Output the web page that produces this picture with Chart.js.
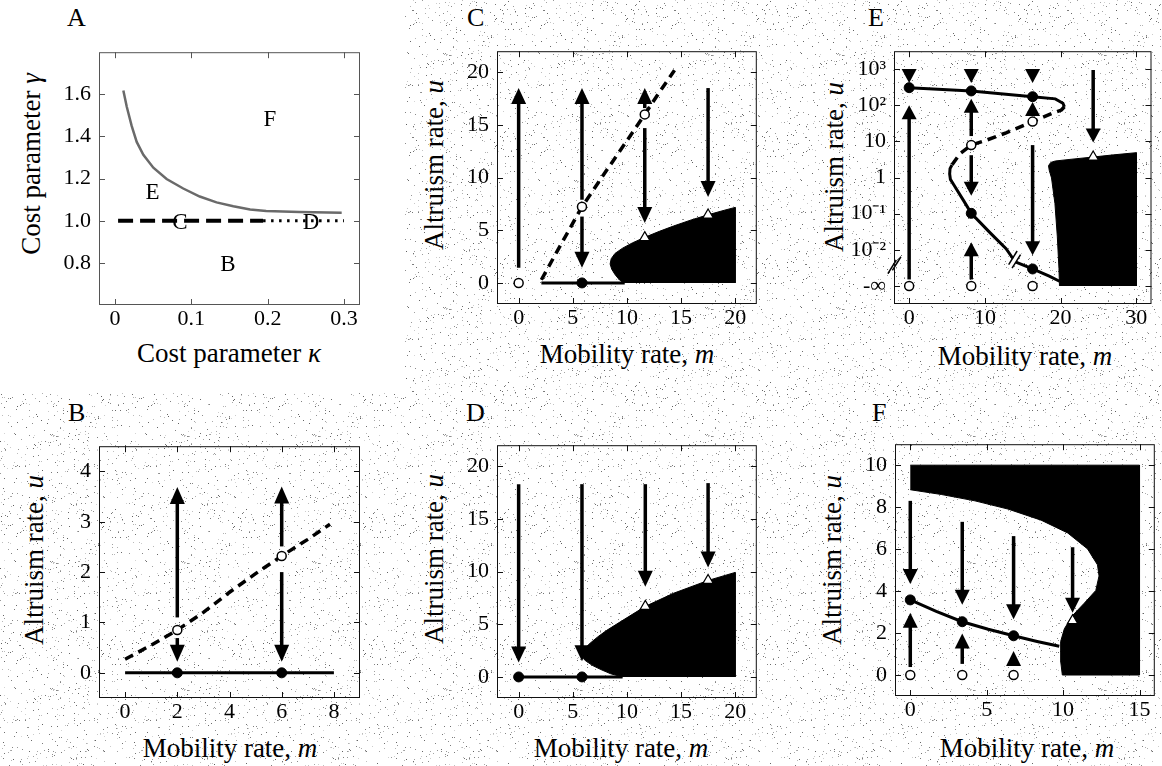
<!DOCTYPE html>
<html>
<head>
<meta charset="utf-8">
<script src="https://cdn.jsdelivr.net/npm/chart.js@4.4.1/dist/chart.umd.min.js"></script>
<style>
  body {
    margin: 0;
    width: 1162px;
    height: 766px;
    position: relative;
    overflow: hidden;
    font-family: "Liberation Serif", "Times New Roman", serif;
    color: #000;
    background-color: #fff;
  }
  #whiteA { position: absolute; left: 0; top: 0; width: 405px; height: 393px; background: #fff; }
  .cv { position: absolute; }
  .t { position: absolute; font-size: 27px; line-height: 1; white-space: nowrap; }
  .let { font-size: 26px; }
  .xt { transform: translateX(-50%); }
  .yt { transform: translate(-50%, -50%) rotate(-90deg); }
</style>
</head>
<body>
<div id="whiteA"></div>

<div class="t let" style="left:67px;top:5px">A</div>
<div class="t let" style="left:467px;top:5px">C</div>
<div class="t let" style="left:868px;top:5px">E</div>
<div class="t let" style="left:68px;top:400px">B</div>
<div class="t let" style="left:466px;top:400px">D</div>
<div class="t let" style="left:872px;top:400px">F</div>

<div class="t xt" style="left:229px;top:340px">Cost parameter <i>κ</i></div>
<div class="t xt" style="left:627px;top:341px">Mobility rate, <i>m</i></div>
<div class="t xt" style="left:1025px;top:343px">Mobility rate, <i>m</i></div>
<div class="t xt" style="left:230px;top:735px">Mobility rate, <i>m</i></div>
<div class="t xt" style="left:621px;top:735px">Mobility rate, <i>m</i></div>
<div class="t xt" style="left:1027px;top:735px">Mobility rate, <i>m</i></div>

<div class="t yt" style="left:31px;top:164px">Cost parameter <i>γ</i></div>
<div class="t yt" style="left:434px;top:165px">Altruism rate, <i>u</i></div>
<div class="t yt" style="left:834px;top:167px">Altruism rate, <i>u</i></div>
<div class="t yt" style="left:34px;top:560px">Altruism rate, <i>u</i></div>
<div class="t yt" style="left:434px;top:559px">Altruism rate, <i>u</i></div>
<div class="t yt" style="left:832px;top:560px">Altruism rate, <i>u</i></div>

<script>
// ---------- panel A : phase diagram (kappa, gamma) ----------
const aTickX = [0, 0.1, 0.2, 0.3];
const aTickY = [0.8, 1.0, 1.2, 1.4, 1.6];
const aCurveK = [0.0109, 0.0153, 0.0218, 0.0284, 0.0371, 0.0502, 0.0676, 0.0894, 0.111, 0.133, 0.155, 0.177, 0.198, 0.242, 0.297];
const aCurveG = [1.618, 1.542, 1.450, 1.374, 1.313, 1.252, 1.198, 1.153, 1.115, 1.087, 1.069, 1.053, 1.046, 1.041, 1.038];
const aDashK = [0.004, 0.194];
const aDashG = [1.0, 1.0];
const aDotK = [0.194, 0.3];
const aDotG = [1.0, 1.0];
const aRegionText = ["F", "E", "B", "C", "D"];
const aRegionK = [0.203, 0.049, 0.148, 0.085, 0.257];
const aRegionG = [1.48, 1.133, 0.79, 0.99, 0.99];

// ---------- panel B ----------
const bTickX = [0, 2, 4, 6, 8];
const bTickY = [0, 1, 2, 3, 4];
const bStableM = [0, 8];
const bStableU = [0, 0];
const bUnstableM = [0, 1, 2, 3, 4, 5, 6, 7, 7.85];
const bUnstableU = [0.27, 0.55, 0.85, 1.2, 1.6, 1.97, 2.32, 2.65, 2.95];
const bFilledM = [2, 6];
const bFilledU = [0, 0];
const bOpenM = [2, 6];
const bOpenU = [0.85, 2.32];
const bArrowM = [2, 2, 6, 6];
const bArrowFrom = [1.10, 0.69, 2.51, 2.0];
const bArrowTo = [3.69, 0.22, 3.7, 0.22];

// ---------- panel C ----------
const cTickX = [0, 5, 10, 15, 20];
const cTickY = [0, 5, 10, 15, 20];
const cStableM = [2.1, 9.8];
const cStableU = [0, 0];
const cUnstableM = [2.1, 3.5, 5.85, 8, 10, 11.65, 13, 14.4];
const cUnstableU = [0.3, 2.9, 7.23, 10.5, 13.5, 16.0, 18.1, 20.2];
const cFilledM = [5.85];
const cFilledU = [0];
const cOpenM = [0, 5.85, 11.65];
const cOpenU = [0, 7.23, 16.0];
const cTriM = [11.65, 17.5];
const cTriU = [4.3, 6.45];
const cRegionM = [9.7, 9.3, 8.9, 8.6, 8.45, 8.55, 8.9, 9.6, 10.5, 11.65, 13, 14.3, 16, 17.5, 19, 20, 20];
const cRegionU = [0, 0.3, 0.8, 1.3, 1.8, 2.3, 2.8, 3.3, 3.8, 4.33, 4.9, 5.4, 6.0, 6.47, 6.9, 7.17, 0];
const cArrowM = [0, 5.85, 5.85, 11.65, 11.65, 17.5];
const cArrowFrom = [1.43, 7.9, 6.3, 16.6, 14.7, 18.5];
const cArrowTo = [18.5, 18.5, 1.43, 18.5, 5.7, 8.15];

// ---------- panel D ----------
const dTickX = [0, 5, 10, 15, 20];
const dTickY = [0, 5, 10, 15, 20];
const dStableM = [0, 9.6];
const dStableU = [0, 0];
const dFilledM = [0, 5.85];
const dFilledU = [0, 0];
const dTriM = [11.7, 17.5];
const dTriU = [6.7, 9.16];
const dRegionM = [9.6, 8.5, 7.6, 6.8, 6.1, 5.8, 6.0, 6.6, 7.3, 8.1, 9.5, 11.7, 14.3, 17.5, 20, 20];
const dRegionU = [0, 0.3, 0.7, 1.1, 1.6, 2.1, 2.6, 3.2, 3.8, 4.4, 5.3, 6.7, 7.94, 9.16, 9.92, 0];
const dArrowM = [0, 5.85, 11.7, 17.5];
const dArrowFrom = [18.3, 18.3, 18.3, 18.4];
const dArrowTo = [1.37, 1.5, 8.55, 10.4];

// ---------- panel E (y axis is log10 u, -3 stands for -infinity) ----------
const eTickX = [0, 10, 20, 30];
const eTickY = [-3, -2, -1, 0, 1, 2, 3];
const eTickText = ["-∞", "10⁻²", "10⁻¹", "1", "10", "10²", "10³"];
const eUpperM = [0, 8.2, 16.3, 19.3, 20.3, 20.5];
const eUpperY = [2.49, 2.40, 2.24, 2.18, 2.06, 1.96];
const eMidM = [20.5, 20.1, 18.9, 16.3, 12.8, 10, 8.2, 6.7, 5.65];
const eMidY = [1.96, 1.87, 1.78, 1.55, 1.24, 1.02, 0.90, 0.66, 0.35];
const eLowM = [5.65, 5.4, 5.35, 5.45, 5.87, 7.17, 8.2, 10.7, 12.8, 13.7];
const eLowY = [0.35, 0.25, 0.1, -0.05, -0.19, -0.63, -0.99, -1.53, -1.97, -2.24];
const eTailM = [14.1, 16.3, 18.5, 19.85];
const eTailY = [-2.34, -2.53, -2.73, -2.87];
const eFilledM = [0, 8.2, 16.3, 8.2, 16.3];
const eFilledY = [2.49, 2.40, 2.24, -0.99, -2.53];
const eOpenM = [8.2, 16.3, 0, 8.2, 16.3];
const eOpenY = [0.90, 1.55, -3, -3, -3];
const eTriM = [24.3];
const eTriY = [0.57];
const eBreakM = [-2.25, -1.65, 13.7, 14.15];
const eBreakY = [-2.47, -2.38, -2.22, -2.32];
const eRegionM = [19.85, 19.78, 19.56, 19.25, 18.8, 18.5, 18.4, 18.7, 19.3, 21.5, 24.3, 27, 30, 30];
const eRegionY = [-3, -2.51, -1.62, -0.72, -0.01, 0.2, 0.33, 0.42, 0.46, 0.51, 0.57, 0.63, 0.69, -3];
const eArrowM = [0, 0, 8.2, 8.2, 8.2, 8.2, 16.3, 16.3, 16.3, 24.3];
const eArrowFrom = [3.0, -2.82, 3.0, 1.15, 0.62, -2.82, 3.0, 1.72, 0.9, 2.98];
const eArrowTo = [2.62, 2.0, 2.62, 2.18, -0.5, -1.79, 2.62, 2.09, -2.15, 0.97];

// ---------- panel F ----------
const fTickX = [0, 5, 10, 15];
const fTickY = [0, 2, 4, 6, 8, 10];
const fStableM = [0, 1.7, 3.4, 5.1, 6.76, 8.3, 9.75];
const fStableU = [3.58, 3.03, 2.54, 2.18, 1.87, 1.6, 1.37];
const fFilledM = [0, 3.4, 6.76];
const fFilledU = [3.58, 2.54, 1.87];
const fOpenM = [0, 3.4, 6.76];
const fOpenU = [0, 0, 0];
const fTriM = [10.62];
const fTriU = [2.59];
const fRegionM = [0, 15, 15, 9.95, 9.85, 9.82, 9.86, 10.08, 10.6, 11.38, 12.14, 12.35, 12.25, 11.6, 10.3, 8.56, 6.39, 4.23, 2.06, 0];
const fRegionU = [10, 10, 0, 0, 0.6, 1.0, 1.6, 2.2, 2.82, 3.42, 4.03, 4.72, 5.25, 6.01, 6.77, 7.38, 7.91, 8.3, 8.6, 8.83];
const fArrowM = [0, 0, 3.4, 3.4, 6.76, 6.76, 10.62];
const fArrowFrom = [8.3, 0.38, 7.3, 0.53, 6.62, 0.5, 6.09];
const fArrowTo = [4.34, 2.97, 3.35, 1.98, 2.66, 1.14, 2.97];

// ---------- stippled paper background (fixed pseudo-random dots) ----------
(function stipple() {
    const tile = document.createElement("canvas");
    tile.width = 131; tile.height = 127;
    const g = tile.getContext("2d");
    let seed = 12345;
    const rnd = () => (seed = (seed * 1103515245 + 12345) % 2147483648) / 2147483648;
    for (let i = 0; i < 470; i++) {
        const v = Math.floor(95 + rnd() * 120);
        g.fillStyle = `rgb(${v},${v},${v})`;
        g.fillRect(Math.floor(rnd() * tile.width), Math.floor(rnd() * tile.height), 1, 1);
    }
    document.body.style.backgroundImage = `url(${tile.toDataURL()})`;
})();

// ---------- helpers ----------
Chart.defaults.font.family = '"Liberation Serif", "Times New Roman", serif';
Chart.defaults.color = "#000";

const PAD = { l: 62, t: 12, r: 6, b: 36 };
const pts = (xs, ys) => xs.map((x, i) => ({ x, y: ys[i] }));

const line = (xs, ys, width, dash, color) => ({
    data: pts(xs, ys), showLine: true, pointRadius: 0, borderWidth: width,
    borderColor: color || "#000", borderDash: dash || [], tension: 0, fill: false
});
const filledDots = (xs, ys) => ({
    data: pts(xs, ys), showLine: false, pointRadius: 5,
    pointBackgroundColor: "#000", pointBorderColor: "#000", pointBorderWidth: 1
});
const openDots = (xs, ys) => ({
    data: pts(xs, ys), showLine: false, pointRadius: 4.5,
    pointBackgroundColor: "#fff", pointBorderColor: "#000", pointBorderWidth: 1.5
});
const openTri = (xs, ys) => ({
    data: pts(xs, ys), showLine: false, pointStyle: "triangle", pointRadius: 6,
    pointBackgroundColor: "#fff", pointBorderColor: "#000", pointBorderWidth: 1.2
});
const region = (xs, ys) => ({
    data: pts(xs, ys), showLine: true, pointRadius: 0, borderWidth: 1,
    borderColor: "#000", backgroundColor: "#000", fill: "shape", tension: 0
});
const breaks = (xs, ys) => ({
    data: pts(xs, ys), showLine: false, pointStyle: "line", pointRadius: 8, clip: false,
    rotation: -58, pointBorderColor: "#000", pointBorderWidth: 1.5
});

// box with inward ticks on all four sides
const frameTicks = {
    id: "frameTicks",
    afterDatasetsDraw(chart, args, opts) {
        const { ctx, chartArea: a, scales: { x, y } } = chart;
        const len = 6;
        ctx.save();
        ctx.strokeStyle = opts.color || "#111";
        ctx.lineWidth = 1;
        ctx.strokeRect(a.left + 0.5, a.top + 0.5, a.right - a.left - 1, a.bottom - a.top - 1);
        ctx.beginPath();
        x.ticks.forEach(t => {
            const px = Math.round(x.getPixelForValue(t.value)) + 0.5;
            ctx.moveTo(px, a.bottom); ctx.lineTo(px, a.bottom - len);
            ctx.moveTo(px, a.top); ctx.lineTo(px, a.top + len);
        });
        y.ticks.forEach(t => {
            const py = Math.round(y.getPixelForValue(t.value)) + 0.5;
            ctx.moveTo(a.left, py); ctx.lineTo(a.left + len, py);
            ctx.moveTo(a.right, py); ctx.lineTo(a.right - len, py);
        });
        ctx.stroke();
        ctx.restore();
    }
};

// vertical arrows: shaft + triangular head, placed through the scales
const arrows = {
    id: "arrows",
    beforeDatasetsDraw(chart, args, opts) {
        if (!opts.m) return;
        const { ctx, scales: { x, y } } = chart;
        ctx.save();
        ctx.fillStyle = "#000";
        ctx.strokeStyle = "#000";
        ctx.lineWidth = opts.lw || 3.5;
        opts.m.forEach((m, i) => {
            const px = x.getPixelForValue(m);
            const p0 = y.getPixelForValue(opts.from[i]);
            const p1 = y.getPixelForValue(opts.to[i]);
            const dir = p1 < p0 ? -1 : 1;
            const base = p1 - dir * opts.head;
            if ((base - p0) * dir > 0) {
                ctx.beginPath();
                ctx.moveTo(px, p0);
                ctx.lineTo(px, base + dir * 2);
                ctx.stroke();
            }
            ctx.beginPath();
            ctx.moveTo(px, p1);
            ctx.lineTo(px - opts.width / 2, base);
            ctx.lineTo(px + opts.width / 2, base);
            ctx.closePath();
            ctx.fill();
        });
        ctx.restore();
    }
};

// text labels placed at data coordinates
const notes = {
    id: "notes",
    afterDatasetsDraw(chart, args, opts) {
        if (!opts.text) return;
        const { ctx, scales: { x, y } } = chart;
        ctx.save();
        ctx.font = opts.font;
        ctx.fillStyle = "#000";
        ctx.textAlign = "center";
        ctx.textBaseline = "middle";
        opts.text.forEach((s, i) => {
            ctx.fillText(s, x.getPixelForValue(opts.x[i]), y.getPixelForValue(opts.y[i]));
        });
        ctx.restore();
    }
};

function makePanel(box, xr, yr, xTicks, yTicks, datasets, extra) {
    const wrap = document.createElement("div");
    wrap.className = "cv";
    wrap.style.left = (box[0] - PAD.l) + "px";
    wrap.style.top = (box[1] - PAD.t) + "px";
    wrap.style.width = (box[2] - box[0] + PAD.l + PAD.r) + "px";
    wrap.style.height = (box[3] - box[1] + PAD.t + PAD.b) + "px";
    const canvas = document.createElement("canvas");
    wrap.appendChild(canvas);
    document.body.appendChild(wrap);

    const yLabel = extra.yLabel || (v => String(v));
    const xLabel = extra.xLabel || (v => String(v));

    return new Chart(canvas, {
        type: "scatter",
        data: { datasets },
        options: {
            responsive: true,
            maintainAspectRatio: false,
            animation: false,
            events: [],
            layout: { padding: { left: 0, top: PAD.t, right: PAD.r, bottom: 0 } },
            scales: {
                x: {
                    type: "linear", min: xr[0], max: xr[1],
                    grid: { display: false, drawTicks: false },
                    border: { display: false },
                    ticks: { font: { size: 22 }, padding: 1, autoSkip: false, maxRotation: 0, callback: xLabel },
                    afterBuildTicks: s => { s.ticks = xTicks.map(v => ({ value: v })); },
                    afterFit: s => { s.height = PAD.b; }
                },
                y: {
                    type: "linear", min: yr[0], max: yr[1],
                    grid: { display: false, drawTicks: false },
                    border: { display: false },
                    ticks: { font: { size: 22 }, padding: 8, autoSkip: false, callback: yLabel },
                    afterBuildTicks: s => { s.ticks = yTicks.map(v => ({ value: v })); },
                    afterFit: s => { s.width = PAD.l; }
                }
            },
            plugins: {
                legend: { display: false },
                tooltip: { enabled: false },
                frameTicks: { color: extra.frame || "#111" },
                arrows: extra.arrows || {},
                notes: extra.notes || {}
            }
        },
        plugins: [frameTicks, arrows, notes]
    });
}

// ---------- build panels ----------
makePanel([99, 43, 360, 305], [-0.021, 0.321], [0.6, 1.8], aTickX, aTickY, [
    line(aCurveK, aCurveG, 2.5, [], "#6a6a6a"),
    line(aDashK, aDashG, 4, [15, 7]),
    line(aDotK, aDotG, 3, [2.5, 5.5])
], {
    frame: "#555",
    yLabel: v => v.toFixed(1),
    notes: { text: aRegionText, x: aRegionK, y: aRegionG, font: '23px "Liberation Serif", serif' }
});

makePanel([99, 437, 360, 698], [-1, 9], [-0.5, 4.5], bTickX, bTickY, [
    filledDots(bFilledM, bFilledU),
    openDots(bOpenM, bOpenU),
    line(bStableM, bStableU, 3),
    line(bUnstableM, bUnstableU, 3.5, [9, 6])
], {
    arrows: { m: bArrowM, from: bArrowFrom, to: bArrowTo, head: 17, width: 15, lw: 3.5 }
});

makePanel([497, 42, 758, 304], [-2, 22], [-2, 22], cTickX, cTickY, [
    filledDots(cFilledM, cFilledU),
    openDots(cOpenM, cOpenU),
    openTri(cTriM, cTriU),
    line(cStableM, cStableU, 3),
    line(cUnstableM, cUnstableU, 3.5, [9, 6]),
    region(cRegionM, cRegionU)
], {
    arrows: { m: cArrowM, from: cArrowFrom, to: cArrowTo, head: 16, width: 15, lw: 3.5 }
});

makePanel([497, 436, 758, 698], [-2, 22], [-2, 22], dTickX, dTickY, [
    filledDots(dFilledM, dFilledU),
    openTri(dTriM, dTriU),
    line(dStableM, dStableU, 3),
    region(dRegionM, dRegionU)
], {
    arrows: { m: dArrowM, from: dArrowFrom, to: dArrowTo, head: 16, width: 15, lw: 3.5 }
});

makePanel([894, 42, 1155, 304], [-2, 32], [-3.5, 3.5], eTickX, eTickY, [
    filledDots(eFilledM, eFilledY),
    openDots(eOpenM, eOpenY),
    openTri(eTriM, eTriY),
    breaks(eBreakM, eBreakY),
    line(eUpperM, eUpperY, 3),
    line(eMidM, eMidY, 3.5, [9, 6]),
    line(eLowM, eLowY, 3),
    line(eTailM, eTailY, 3),
    region(eRegionM, eRegionY)
], {
    yLabel: v => eTickText[eTickY.indexOf(v)],
    arrows: { m: eArrowM, from: eArrowFrom, to: eArrowTo, head: 14, width: 15, lw: 3.5 }
});

makePanel([895, 435, 1156, 696], [-1, 16], [-1, 11], fTickX, fTickY, [
    filledDots(fFilledM, fFilledU),
    openDots(fOpenM, fOpenU),
    openTri(fTriM, fTriU),
    line(fStableM, fStableU, 3),
    region(fRegionM, fRegionU)
], {
    arrows: { m: fArrowM, from: fArrowFrom, to: fArrowTo, head: 15, width: 15, lw: 3.5 }
});
</script>
</body>
</html>
